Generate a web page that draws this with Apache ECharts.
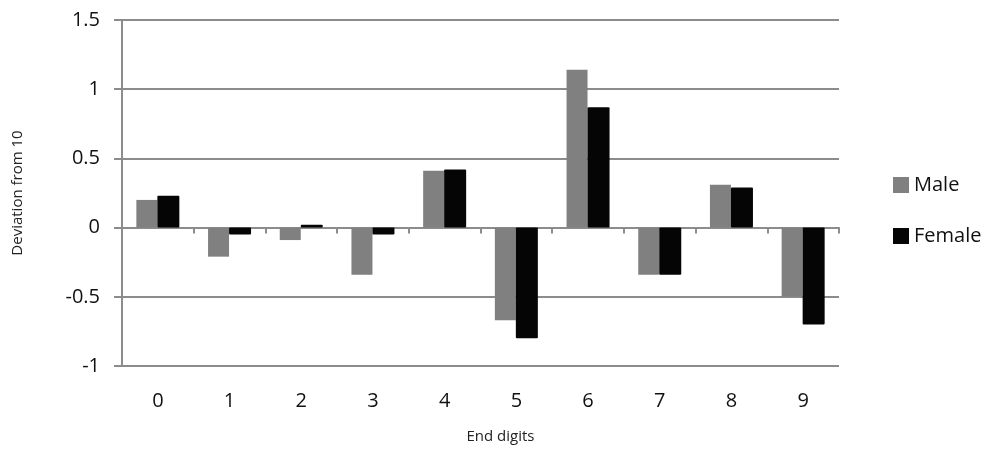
<!DOCTYPE html>
<html>
<head>
<meta charset="utf-8">
<script src="https://cdn.jsdelivr.net/npm/echarts@6/dist/echarts.min.js"></script>
<style>html,body{margin:0;padding:0;background:#fff}#c{width:988px;height:453px}</style>
</head>
<body>
<div id="c"></div>
<script>
var categories = ['0','1','2','3','4','5','6','7','8','9'];
var maleValues = [0.20, -0.21, -0.09, -0.34, 0.41, -0.67, 1.14, -0.34, 0.31, -0.50];
var femaleValues = [0.23, -0.05, 0.02, -0.05, 0.42, -0.80, 0.87, -0.34, 0.29, -0.70];
var seriesNames = ['Male', 'Female'];
var yTicks = { min: -1, max: 1.5, interval: 0.5 };

var FONT = '"Open Sans", "DejaVu Sans", sans-serif';
var GRID = '#8c8c8c';
var chart = echarts.init(document.getElementById('c'), null, {renderer: 'canvas'});
chart.setOption({
  animation: false,
  backgroundColor: '#ffffff',
  grid: { left: 122, right: 149, top: 20, bottom: 87, containLabel: false },
  legend: {
    orient: 'vertical', left: 893, top: 175, itemWidth: 16, itemHeight: 16, itemGap: 31,
    icon: 'rect', padding: 0,
    textStyle: { fontFamily: FONT, fontSize: 20, color: '#111' },
    data: seriesNames
  },
  xAxis: [
    {
      type: 'category', data: categories, position: 'top',
      axisLine: { onZero: true, lineStyle: { color: GRID, width: 2 } },
      axisTick: { show: true, inside: true, length: 6, lineStyle: { color: GRID, width: 2 } },
      axisLabel: { show: false },
      splitLine: { show: false }
    },
    {
      type: 'category', data: categories, position: 'bottom',
      axisLine: { show: false, onZero: false },
      axisTick: { show: false },
      axisLabel: { show: true, margin: 25, fontFamily: FONT, fontSize: 20, color: '#111' },
      name: 'End digits', nameLocation: 'middle', nameGap: 63,
      nameTextStyle: { fontFamily: FONT, fontSize: 15, color: '#222', padding: [0, 0, 0, 40] }
    }
  ],
  yAxis: {
    type: 'value', min: yTicks.min, max: yTicks.max, interval: yTicks.interval,
    axisLine: { show: true, lineStyle: { color: GRID, width: 2 } },
    axisTick: { show: true, length: 8, lineStyle: { color: GRID, width: 2 } },
    axisLabel: { margin: 22, fontFamily: FONT, fontSize: 20, color: '#111' },
    splitLine: { show: true, lineStyle: { color: GRID, width: 2 } },
    name: 'Deviation from 10', nameLocation: 'middle', nameGap: 97,
    nameTextStyle: { fontFamily: FONT, fontSize: 15, color: '#222' }
  },
  series: [
    { name: seriesNames[0], type: 'bar', xAxisIndex: 0, data: maleValues, barWidth: 21, barGap: '0%',
      itemStyle: { color: '#808080' } },
    { name: seriesNames[1], type: 'bar', xAxisIndex: 0, data: femaleValues, barWidth: 22, barGap: '0%',
      itemStyle: { color: '#050505', borderRadius: 1 } }
  ]
});
</script>
</body>
</html>
